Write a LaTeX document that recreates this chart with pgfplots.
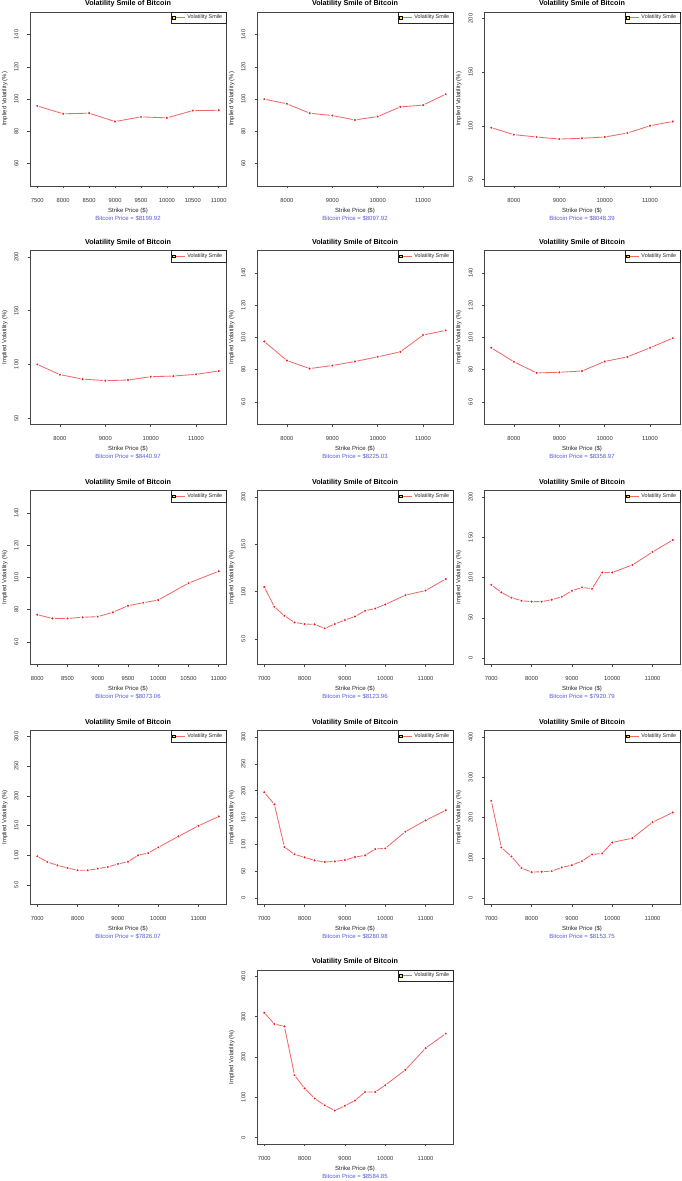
\documentclass[border=0pt]{standalone}
\usepackage{fontspec}
\setmainfont{Liberation Sans}
\usepackage{pgfplots}
\pgfplotsset{compat=1.18}
\definecolor{lc}{RGB}{242,105,105}
\definecolor{pc}{RGB}{232,25,25}
\definecolor{bc}{RGB}{85,85,220}
\definecolor{axc}{RGB}{70,70,70}
\pgfplotsset{
 smile/.style={
  scale only axis, width=196pt, height=174pt, anchor=south west, clip=false,
  axis line style={draw=axc, line width=0.8pt},
  major tick style={draw=axc, line width=0.5pt},
  tick align=outside, major tick length=2.5pt,
  xtick pos=bottom, ytick pos=left,
  scaled ticks=false,
  /pgf/number format/assume math mode=true,
  /pgf/number format/1000 sep={},
  ticklabel style={font=\fontsize{5.8}{6.5}\selectfont, text=black!80, inner sep=0pt},
  xticklabel style={anchor=center, yshift=-11.7pt},
  yticklabel style={xshift=-11pt, rotate=90, anchor=center},
  xlabel={Strike Price (\$)},
  ylabel={Implied Volatility (\%)},
  xlabel style={font=\fontsize{6}{7}\selectfont, text=black!85, at={(axis description cs:0.5,-0.142)}, anchor=center, inner sep=0pt},
  ylabel style={font=\fontsize{6}{7}\selectfont, text=black!85, at={(axis description cs:-0.129,0.5)}, anchor=center, inner sep=0pt},
  legend style={at={(axis description cs:1,1)}, anchor=north east, draw=black!85, line width=0.5pt, fill=white,
    font=\fontsize{5.4}{6}\selectfont, inner xsep=1.5pt, inner ysep=0.8pt, text=black!85},
  legend cell align=left,
  legend image code/.code={
    \draw[lc, line width=0.8pt] (0pt,0pt) -- (11pt,0pt);
    \draw[draw=black, fill=yellow, line width=0.4pt] (-1.4pt,-1.4pt) rectangle (1.4pt,1.4pt);
  },
 },
 smileplot/.style={color=lc, line width=0.85pt, mark=*, mark size=1.9pt,
   mark options={fill=pc, draw=white, line width=0.8pt}},
}
\newcommand{\btc}[1]{%
\node[font=\fontsize{6}{7}\selectfont, text=bc, inner sep=0pt] at (axis description cs:0.5,-0.184) {Bitcoin Price = \$#1};
\node[font=\bfseries\fontsize{7.2}{8}\selectfont, text=black, inner sep=0pt] at (axis description cs:0.5,1.046) {Volatility Smile of Bitcoin};}
\begin{document}
\begin{tikzpicture}[x=1pt,y=1pt]
\path[use as bounding box] (0,0) rectangle (681,1181);
% Row 1
\begin{axis}[smile, at={(30pt,995pt)}, xmin=7360, xmax=11140, ymin=46, ymax=154,
  xtick={7500,8000,8500,9000,9500,10000,10500,11000}, ytick={60,80,100,120,140}]
\addplot[smileplot] coordinates {(7500,95.7) (8000,90.8) (8500,91.2) (9000,86.0) (9500,88.9) (10000,88.3) (10500,92.8) (11000,93.0)};
\addlegendentry{Volatility Smile}
\btc{8199.92}
\end{axis}
\begin{axis}[smile, at={(257pt,995pt)}, xmin=7340, xmax=11660, ymin=46, ymax=154,
  xtick={8000,9000,10000,11000}, ytick={60,80,100,120,140}]
\addplot[smileplot] coordinates {(7500,99.9) (8000,97.0) (8500,91.2) (9000,89.7) (9500,87.0) (10000,89.1) (10500,95.1) (11000,96.2) (11500,103.0)};
\addlegendentry{Volatility Smile}
\btc{8097.92}
\end{axis}
\begin{axis}[smile, at={(484pt,995pt)}, xmin=7340, xmax=11660, ymin=44, ymax=206,
  xtick={8000,9000,10000,11000}, ytick={50,100,150,200}]
\addplot[smileplot] coordinates {(7500,98.3) (8000,91.8) (8500,89.6) (9000,87.7) (9500,88.4) (10000,89.6) (10500,93.3) (11000,100.1) (11500,104.1)};
\addlegendentry{Volatility Smile}
\btc{8048.39}
\end{axis}
% Row 2
\begin{axis}[smile, at={(30pt,756.5pt)}, xmin=7340, xmax=11660, ymin=44, ymax=206,
  xtick={8000,9000,10000,11000}, ytick={50,100,150,200}]
\addplot[smileplot] coordinates {(7500,100.0) (8000,90.4) (8500,86.3) (9000,84.8) (9500,85.4) (10000,88.5) (10500,89.1) (11000,90.7) (11500,93.8)};
\addlegendentry{Volatility Smile}
\btc{8440.97}
\end{axis}
\begin{axis}[smile, at={(257pt,756.5pt)}, xmin=7340, xmax=11660, ymin=46, ymax=154,
  xtick={8000,9000,10000,11000}, ytick={60,80,100,120,140}]
\addplot[smileplot] coordinates {(7500,97.5) (8000,85.7) (8500,80.7) (9000,82.6) (9500,85.1) (10000,88.0) (10500,91.1) (11000,101.5) (11500,104.4)};
\addlegendentry{Volatility Smile}
\btc{8225.03}
\end{axis}
\begin{axis}[smile, at={(484pt,756.5pt)}, xmin=7340, xmax=11660, ymin=46, ymax=154,
  xtick={8000,9000,10000,11000}, ytick={60,80,100,120,140}]
\addplot[smileplot] coordinates {(7500,93.6) (8000,84.9) (8500,78.0) (9000,78.4) (9500,79.2) (10000,85.1) (10500,88.0) (11000,93.6) (11500,99.6)};
\addlegendentry{Volatility Smile}
\btc{8358.97}
\end{axis}
% Row 3
\begin{axis}[smile, at={(30pt,516.5pt)}, xmin=7880, xmax=11120, ymin=46, ymax=154,
  xtick={8000,8500,9000,9500,10000,10500,11000}, ytick={60,80,100,120,140}]
\addplot[smileplot] coordinates {(8000,76.9) (8250,74.6) (8500,74.6) (8750,75.3) (9000,75.7) (9250,78.4) (9500,82.5) (9750,84.3) (10000,86.0) (10500,96.5) (11000,103.9)};
\addlegendentry{Volatility Smile}
\btc{8073.06}
\end{axis}
\begin{axis}[smile, at={(257pt,516.5pt)}, xmin=6820, xmax=11680, ymin=23, ymax=207,
  xtick={7000,8000,9000,10000,11000}, ytick={50,100,150,200}]
\addplot[smileplot] coordinates {(7000,105.0) (7250,84.0) (7500,74.5) (7750,67.5) (8000,65.8) (8250,65.4) (8500,61.2) (8750,65.8) (9000,70.0) (9250,73.8) (9500,79.8) (9750,82.2) (10000,86.5) (10500,96.3) (11000,101.2) (11500,113.4)};
\addlegendentry{Volatility Smile}
\btc{8123.96}
\end{axis}
\begin{axis}[smile, at={(484pt,516.5pt)}, xmin=6820, xmax=11680, ymin=-8, ymax=208,
  xtick={7000,8000,9000,10000,11000}, ytick={0,50,100,150,200}]
\addplot[smileplot] coordinates {(7000,90.9) (7250,81.5) (7500,74.9) (7750,71.2) (8000,70.0) (8250,70.0) (8500,72.4) (8750,76.1) (9000,83.5) (9250,87.7) (9500,86.0) (9750,106.2) (10000,106.2) (10500,115.6) (11000,131.7) (11500,146.5)};
\addlegendentry{Volatility Smile}
\btc{7920.79}
\end{axis}
% Row 4
\begin{axis}[smile, at={(30pt,276.5pt)}, xmin=6820, xmax=11680, ymin=17, ymax=310,
  xtick={7000,8000,9000,10000,11000}, ytick={50,100,150,200,250,300}]
\addplot[smileplot] coordinates {(7000,98.1) (7250,88.6) (7500,83.0) (7750,78.5) (8000,74.6) (8250,74.6) (8500,77.4) (8750,80.2) (9000,85.2) (9250,89.1) (9500,99.8) (9750,103.7) (10000,113.2) (10500,131.7) (11000,149.6) (11500,165.2)};
\addlegendentry{Volatility Smile}
\btc{7826.07}
\end{axis}
\begin{axis}[smile, at={(257pt,276.5pt)}, xmin=6820, xmax=11680, ymin=-12, ymax=312,
  xtick={7000,8000,9000,10000,11000}, ytick={0,50,100,150,200,250,300}]
\addplot[smileplot] coordinates {(7000,196.9) (7250,174.5) (7500,95.0) (7750,81.4) (8000,75.8) (8250,70.2) (8500,67.1) (8750,68.3) (9000,70.8) (9250,76.4) (9500,79.5) (9750,91.3) (10000,92.5) (10500,123.6) (11000,144.7) (11500,163.4)};
\addlegendentry{Volatility Smile}
\btc{8280.98}
\end{axis}
\begin{axis}[smile, at={(484pt,276.5pt)}, xmin=6820, xmax=11680, ymin=-16, ymax=416,
  xtick={7000,8000,9000,10000,11000}, ytick={0,100,200,300,400}]
\addplot[smileplot] coordinates {(7000,241.3) (7250,125.6) (7500,103.3) (7750,74.4) (8000,64.5) (8250,65.3) (8500,66.9) (8750,76.0) (9000,81.8) (9250,91.7) (9500,108.3) (9750,110.7) (10000,138.0) (10500,148.8) (11000,188.4) (11500,212.4)};
\addlegendentry{Volatility Smile}
\btc{8153.75}
\end{axis}
% Row 5
\begin{axis}[smile, at={(257pt,37pt)}, xmin=6820, xmax=11680, ymin=-16, ymax=416,
  xtick={7000,8000,9000,10000,11000}, ytick={0,100,200,300,400}]
\addplot[smileplot] coordinates {(7000,310) (7250,282) (7500,276) (7750,155) (8000,122) (8250,97) (8500,80) (8750,67) (9000,79) (9250,92) (9500,113) (9750,113) (10000,130) (10500,168) (11000,222) (11500,258)};
\addlegendentry{Volatility Smile}
\btc{8584.85}
\end{axis}
\end{tikzpicture}
\end{document}
